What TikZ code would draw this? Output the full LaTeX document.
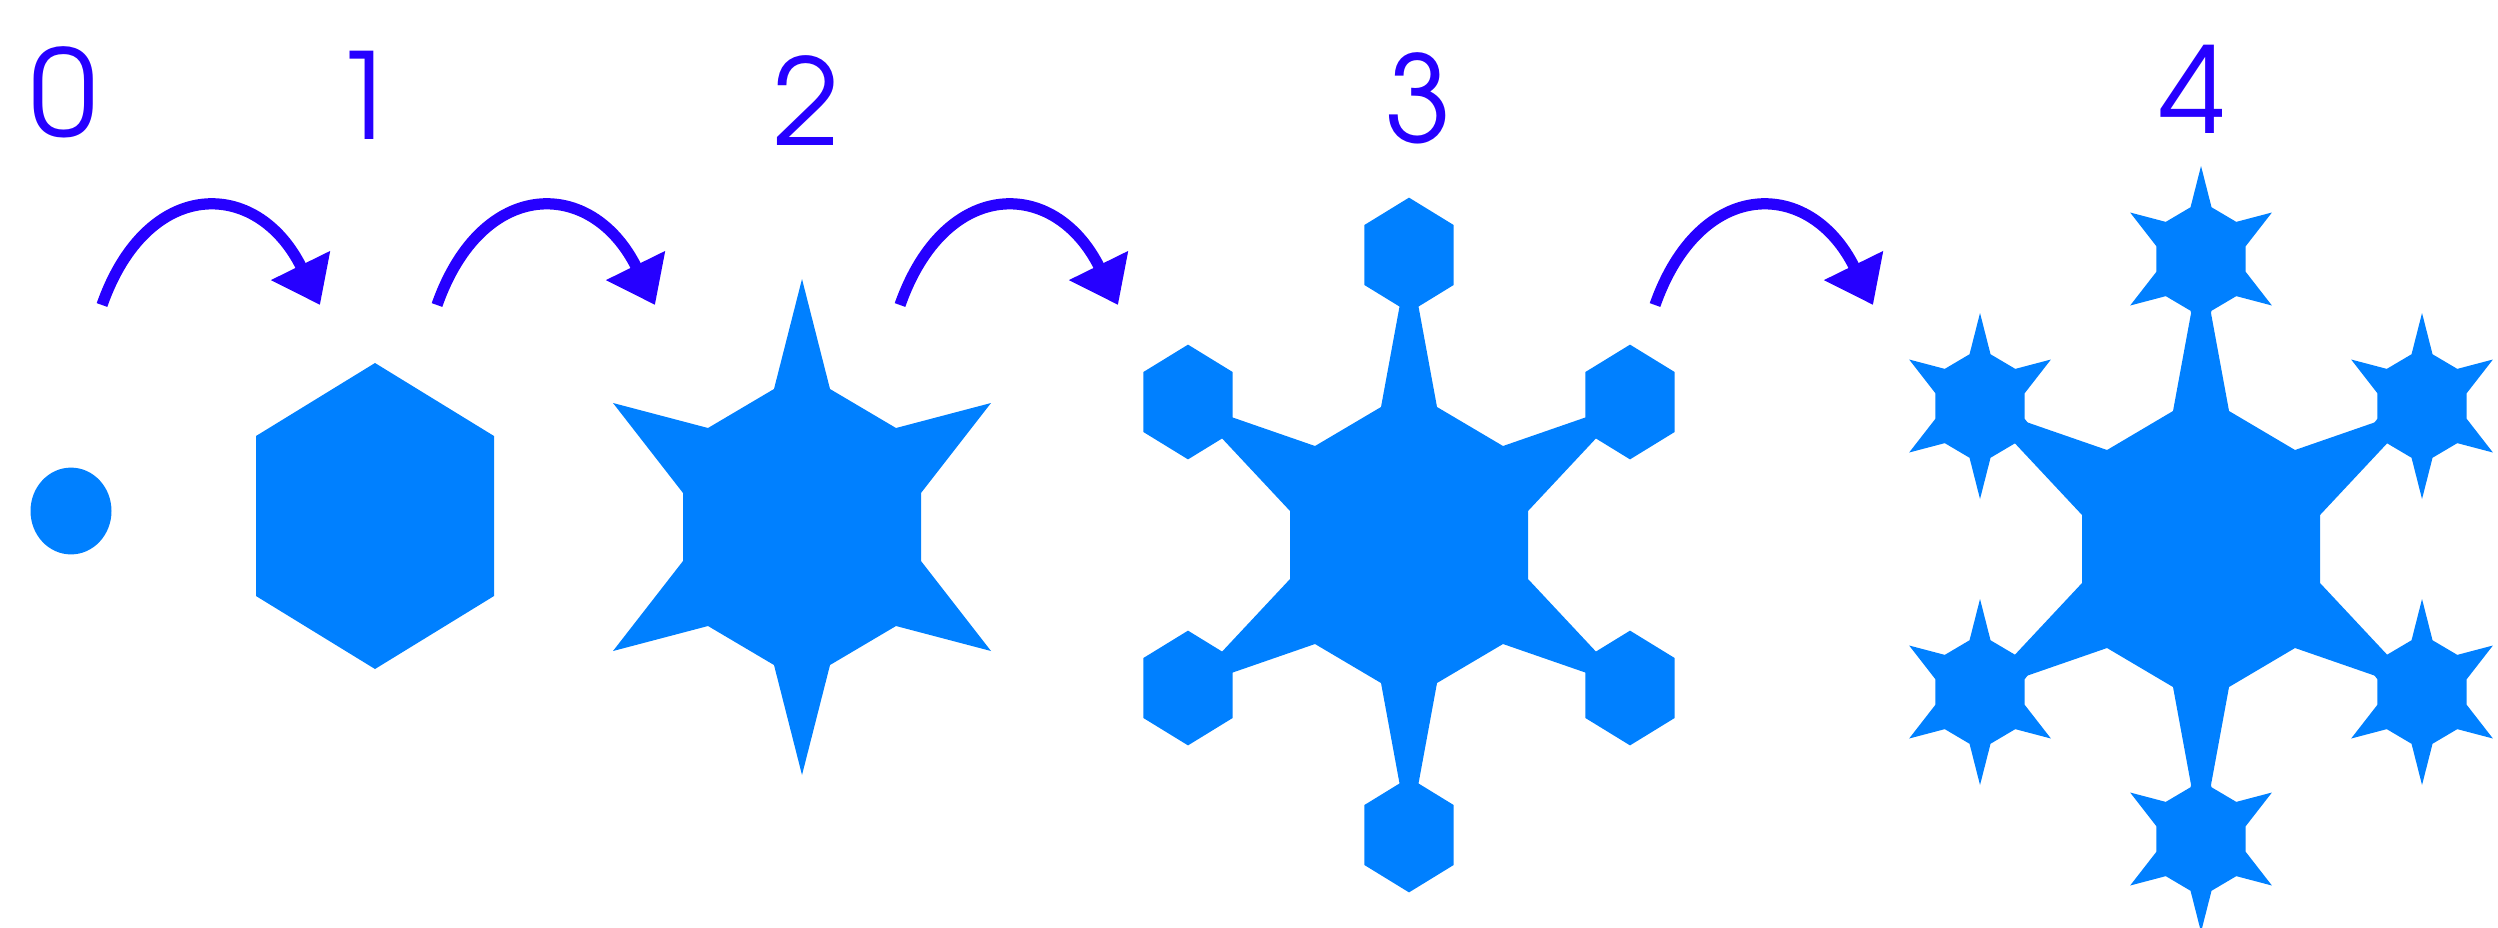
\documentclass[tikz,border=0pt]{standalone}
\usepackage{fontspec}
\newfontfamily\digitfont{TeX Gyre Adventor}
\usetikzlibrary{arrows.meta}
\definecolor{flakeblue}{RGB}{0,128,255}
\definecolor{stepblue}{RGB}{38,0,255}

\begin{document}
\begin{tikzpicture}[
        x=0.01cm, y=-0.01cm,
        every node/.style={font=\digitfont\fontsize{34}{36}\selectfont, text=stepblue, inner sep=0pt},
        growth/.style={draw=stepblue, line width=3.2pt, -{Triangle[length=4.4mm, width=6.3mm]}},
        hexa/.pic={\fill[flakeblue] (0,-153) -- (119,-80) -- (119,80) -- (0,153) -- (-119,80) -- (-119,-80) -- cycle;},
        flake/.pic={\fill[flakeblue] (0,-248) -- (28,-138) -- (94,-99) -- (189,-124) -- (119,-34) -- (119,34) -- (189,124) -- (94,99) -- (28,138)
            -- (0,248) -- (-28,138) -- (-94,99) -- (-189,124) -- (-119,34) -- (-119,-34) -- (-189,-124) -- (-94,-99) -- (-28,-138) -- cycle;},
        branch/.pic={\fill[flakeblue] (0,-290) -- (28,-138) -- (94,-99) -- (221,-143) -- (119,-34) -- (119,34) -- (221,143) -- (94,99) -- (28,138)
            -- (0,290) -- (-28,138) -- (-94,99) -- (-221,143) -- (-119,34) -- (-119,-34) -- (-221,-143) -- (-94,-99) -- (-28,-138) -- cycle;}
    ]
        \useasboundingbox (0,0) rectangle (2498,927);

        % Stage numbers
        \node (n0) at (63.5,92) {0};
        \node (n1) at (365,95) {1};
        \node (n2) at (806.5,101) {2};
        \node (n3) at (1418.5,98) {3};
        \node (n4) at (2193,89) {4};

        % Stages
        \fill[flakeblue] (71,511) ellipse [x radius=40.5, y radius=43.4];
        \pic at (375,516) {hexa};
        \pic at (802,527) {flake};

        \pic at (1409,545) {branch};
        \pic[scale=0.375] at (1409,255) {hexa};
        \pic[scale=0.375] at (1630,402) {hexa};
        \pic[scale=0.375] at (1630,688) {hexa};
        \pic[scale=0.375] at (1409,835) {hexa};
        \pic[scale=0.375] at (1188,688) {hexa};
        \pic[scale=0.375] at (1188,402) {hexa};

        \pic at (2201,549) {branch};
        \pic[scale=0.375] at (2201,259) {flake};
        \pic[scale=0.375] at (2422,406) {flake};
        \pic[scale=0.375] at (2422,692) {flake};
        \pic[scale=0.375] at (2201,839) {flake};
        \pic[scale=0.375] at (1980,692) {flake};
        \pic[scale=0.375] at (1980,406) {flake};

        % Arrow ends
        \coordinate (g0s) at (102,305);
        \coordinate (g0e) at (320,305);
        \coordinate (g1s) at (437,305);
        \coordinate (g1e) at (655,305);
        \coordinate (g2s) at (900,305);
        \coordinate (g2e) at (1118,305);
        \coordinate (g3s) at (1655,305);
        \coordinate (g3e) at (1873,305);

        % Arrows
        \draw[growth] (g0s) .. controls +(45,-128) and +(-63,-128) .. (g0e);
        \draw[growth] (g1s) .. controls +(45,-128) and +(-63,-128) .. (g1e);
        \draw[growth] (g2s) .. controls +(45,-128) and +(-63,-128) .. (g2e);
        \draw[growth] (g3s) .. controls +(45,-128) and +(-63,-128) .. (g3e);
\end{tikzpicture}
\end{document}
